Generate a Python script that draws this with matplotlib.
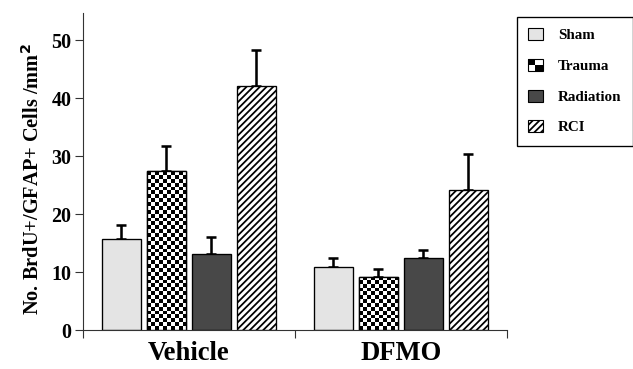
import numpy as np
import matplotlib
matplotlib.use("Agg")
import matplotlib.pyplot as plt
from matplotlib.patches import Patch, Rectangle
from matplotlib.legend_handler import HandlerBase

# data
groups = ["Vehicle", "DFMO"]
series = ["Sham", "Trauma", "Radiation", "RCI"]
means = {
    "Sham":      [15.7, 10.9],
    "Trauma":    [27.4, 9.2],
    "Radiation": [13.1, 12.5],
    "RCI":       [42.1, 24.1],
}
errs = {
    "Sham":      [2.4, 1.6],
    "Trauma":    [4.4, 1.4],
    "Radiation": [2.9, 1.3],
    "RCI":       [6.1, 6.2],
}
yticks = [0, 10, 20, 30, 40, 50]

plt.rcParams['font.family'] = ['Liberation Serif', 'DejaVu Serif']
plt.rcParams['font.weight'] = 'bold'
plt.rcParams['hatch.linewidth'] = 1.6

DPI = 80
fig = plt.figure(figsize=(633 / DPI, 369 / DPI), dpi=DPI)
ax = fig.add_axes([82.5 / 633, 39 / 369, (507 - 82.5) / 633, (330 - 13) / 369])

x = np.arange(len(groups))
width = 0.184
step = 0.212
styles = {
    "Sham":      dict(facecolor="#e4e4e4"),
    "Trauma":    dict(facecolor="white"),
    "Radiation": dict(facecolor="#484848"),
    "RCI":       dict(facecolor="white", hatch="////"),
}

ax.set_xlim(-0.5, 1.5)
ax.set_ylim(0, 54.66)

bars = {}
for i, s in enumerate(series):
    pos = x + (i - 1.5) * step
    bars[s] = ax.bar(pos, means[s], width, edgecolor="black", linewidth=1.2,
                     zorder=2, **styles[s])
    ax.errorbar(pos, means[s], yerr=[np.zeros(len(pos)), errs[s]], fmt="none",
                ecolor="black", elinewidth=2.3, capsize=4.5, capthick=2.3, zorder=1)

# checkerboard fill for the Trauma bars (clipped image on top of a white bar)
for rect in bars["Trauma"]:
    x0, w, h = rect.get_x(), rect.get_width(), rect.get_height()
    p0 = ax.transData.transform((x0, 0))
    p1 = ax.transData.transform((x0 + w, h))
    nx = max(1, int(round((p1[0] - p0[0]) / 3.9)))
    ny = max(1, int(round((p1[1] - p0[1]) / 3.9)))
    board = (np.indices((ny, nx)).sum(axis=0) % 2).astype(float)
    im = ax.imshow(board, extent=(x0, x0 + w, 0, h), cmap="gray", vmin=0, vmax=1,
                   interpolation="nearest", aspect="auto", zorder=2.1, origin="lower")
    im.set_clip_path(rect)
    ax.add_patch(Rectangle((x0, 0), w, h, facecolor="none", edgecolor="black",
                           linewidth=1.2, zorder=2.2))

ax.set_xlim(-0.5, 1.5)
ax.set_ylim(0, 54.66)

ax.spines["top"].set_visible(False)
ax.spines["right"].set_visible(False)
for sp in ("left", "bottom"):
    ax.spines[sp].set_linewidth(1.0)
    ax.spines[sp].set_color("#333333")

ax.set_yticks(yticks)
ax.tick_params(axis="y", length=7, width=1.0, labelsize=18, pad=3, color="#333333")
ax.set_xticks([-0.5, 0.5, 1.5])
ax.set_xticklabels([])
ax.set_xticks(x, minor=True)
ax.set_xticklabels(groups, minor=True, fontsize=24, fontweight="bold")
ax.tick_params(axis="x", which="major", length=7, width=1.0, color="#333333")
ax.tick_params(axis="x", which="minor", length=0, pad=10)
for t in ax.get_yticklabels():
    t.set_fontweight("bold")

ax.set_ylabel("No. BrdU+/GFAP+ Cells /mm$^\\mathbf{2}$", fontsize=18.3,
              fontweight="bold")
ax.yaxis.set_label_coords(-0.09, 0.476)


class CheckerHandler(HandlerBase):
    def create_artists(self, legend, orig_handle, xdescent, ydescent,
                       width, height, fontsize, trans):
        hw, hh = width / 2, height / 2
        arts = [Rectangle((-xdescent, -ydescent), width, height, facecolor="white",
                          edgecolor="none", transform=trans),
                Rectangle((-xdescent, -ydescent + hh), hw, hh, facecolor="black",
                          edgecolor="none", transform=trans),
                Rectangle((-xdescent + hw, -ydescent), hw, hh, facecolor="black",
                          edgecolor="none", transform=trans),
                Rectangle((-xdescent, -ydescent), width, height, facecolor="none",
                          edgecolor="black", linewidth=1.0, transform=trans)]
        return arts


handles = [Patch(facecolor=styles[s]["facecolor"], edgecolor="black", linewidth=1.0,
                 hatch=styles[s].get("hatch")) for s in series]
leg = fig.legend(handles, series, loc="upper right", bbox_to_anchor=(632.5 / 633, 352 / 369),
                 bbox_transform=fig.transFigure, borderaxespad=0, fancybox=False,
                 edgecolor="black", framealpha=1, prop={"size": 13.5, "weight": "bold"},
                 labelspacing=1.1, handlelength=1.0, handleheight=0.85,
                 handletextpad=1.0, borderpad=0.75,
                 handler_map={handles[1]: CheckerHandler()})
leg.get_frame().set_linewidth(1.2)

fig.savefig("out.png", dpi=DPI)
